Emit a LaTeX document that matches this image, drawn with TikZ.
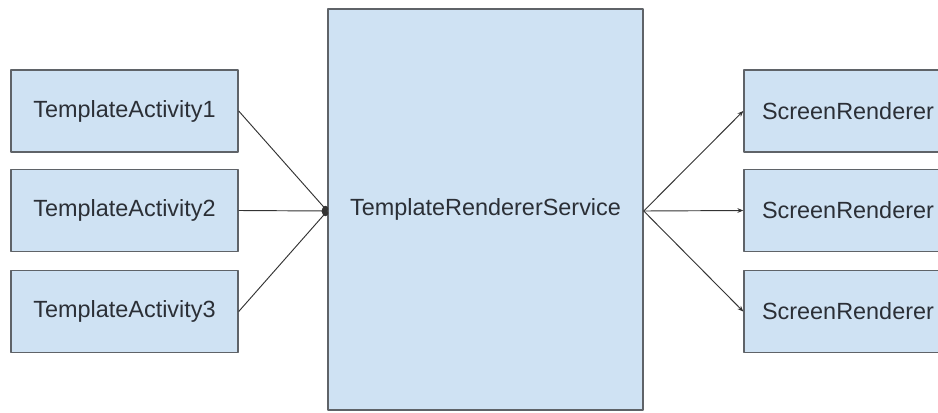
\documentclass[tikz,border=0pt]{standalone}
\usepackage{fontspec}
\setmainfont{Liberation Sans}
\usetikzlibrary{arrows.meta}
\definecolor{boxfill}{HTML}{CFE2F3}
\definecolor{boxline}{HTML}{5F6368}
\definecolor{boxtext}{HTML}{2B2F36}
\tikzset{
	classbox/.style={draw=boxline, line width=1.2pt, fill=boxfill, text=boxtext, inner sep=0pt},
	link/.style={line width=0.8pt, draw=black!80}
}
\begin{document}
\begin{tikzpicture}[x=0.03cm, y=-0.03cm, font=\fontsize{20}{24}\selectfont, line join=round]
	\clip (0,0) rectangle (938,412); % Khung
	\fill[white] (0,0) rectangle (938,412);
	\node[classbox, minimum width=9.45cm, minimum height=12.03cm] (svc) at (485.5,209.5) {TemplateRendererService};
	\foreach \i/\y in {1/111, 2/210.5, 3/311.5}{
		\node[classbox, minimum width=6.81cm, minimum height=2.46cm] (act\i) at (124.5,\y) {TemplateActivity\i};
		\node[classbox, minimum width=6.24cm, minimum height=2.46cm] (scr\i) at (848,\y) {ScreenRenderer};
	}
	\coordinate (svcin) at (svc.west |- 0,211);
	\coordinate (svcout) at (svc.east |- 0,211);
	\foreach \i in {1,2,3}{
		\draw[link, -{Circle[length=5pt]}] (act\i.east) -- (svcin);
		\draw[link, -{Stealth[length=5pt, width=4pt]}] (svcout) -- (scr\i.west);
	}
\end{tikzpicture}
\end{document}
